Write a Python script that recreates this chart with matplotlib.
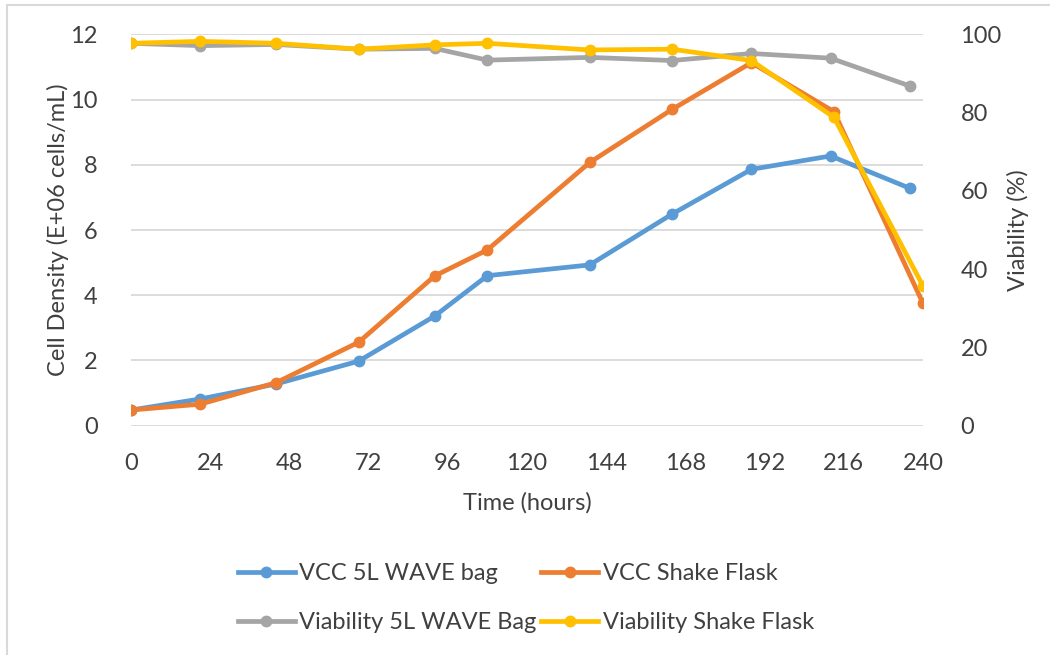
import matplotlib
matplotlib.use("Agg")
import matplotlib.pyplot as plt
from matplotlib.lines import Line2D

plt.rcParams['font.family'] = ['Lato', 'DejaVu Sans']

# Sampling times (hours)
time_wave = [0, 21, 44, 69, 92, 108, 139, 164, 188, 212, 236]
time_flask = [0, 21, 44, 69, 92, 108, 139, 164, 188, 213, 240]

# Viable cell concentration (E+06 cells/mL)
vcc_wave = [0.48, 0.82, 1.28, 1.98, 3.36, 4.60, 4.93, 6.49, 7.86, 8.27, 7.28]
vcc_flask = [0.48, 0.66, 1.32, 2.56, 4.59, 5.39, 8.07, 9.70, 11.13, 9.63, 3.75]

# Viability (%)
via_wave = [97.7, 97.1, 97.4, 96.2, 96.4, 93.4, 94.1, 93.3, 95.1, 93.9, 86.8]
via_flask = [97.7, 98.2, 97.7, 96.2, 97.3, 97.7, 96.0, 96.2, 93.3, 78.8, 35.7]

x_ticks = list(range(0, 241, 24))
left_ticks = [0, 2, 4, 6, 8, 10, 12]
right_ticks = [0, 20, 40, 60, 80, 100]

labels = ["VCC 5L WAVE bag", "VCC Shake Flask",
          "Viability 5L WAVE Bag", "Viability Shake Flask"]
colors = ["#5B9BD5", "#ED7D31", "#A5A5A5", "#FFC000"]

TEXT = "#404040"
GRID = "#D9D9D9"
FS = 17
LW = 3.4
MS = 7.5

fig = plt.figure(figsize=(10.5, 6.55), dpi=100)
ax = fig.add_axes([131 / 1050, 1 - 425.7 / 655, (923 - 131) / 1050, (425.7 - 34.3) / 655])
ax2 = ax.twinx()

ax.plot(time_wave, vcc_wave, color=colors[0], lw=LW, marker='o', ms=MS,
        solid_joinstyle='round', solid_capstyle='round', zorder=3)
ax.plot(time_flask, vcc_flask, color=colors[1], lw=LW, marker='o', ms=MS,
        solid_joinstyle='round', solid_capstyle='round', zorder=3)
ax2.plot(time_wave, via_wave, color=colors[2], lw=LW, marker='o', ms=MS,
         solid_joinstyle='round', solid_capstyle='round', zorder=3)
ax2.plot(time_flask, via_flask, color=colors[3], lw=LW, marker='o', ms=MS,
         solid_joinstyle='round', solid_capstyle='round', zorder=3)

ax.set_xlim(0, 240)
ax.set_ylim(0, 12)
ax2.set_ylim(0, 100)
ax.set_xticks(x_ticks)
ax.set_yticks(left_ticks)
ax2.set_yticks(right_ticks)

ax.yaxis.grid(True, color=GRID, lw=1.3)
ax.set_axisbelow(True)
for a in (ax, ax2):
    for s in a.spines.values():
        s.set_visible(False)

ax.tick_params(axis='x', length=0, pad=20, labelsize=FS, labelcolor=TEXT)
ax.tick_params(axis='y', length=0, pad=24, labelsize=FS, labelcolor=TEXT)
ax2.tick_params(axis='y', length=0, pad=27, labelsize=FS, labelcolor=TEXT)

ax.set_xlabel("Time (hours)", fontsize=FS, color=TEXT, labelpad=13)
ax.set_ylabel("Cell Density (E+06 cells/mL)", fontsize=FS, color=TEXT, labelpad=1)
ax2.set_ylabel("Viability (%)", fontsize=FS, color=TEXT, labelpad=4)

# Legend laid out row by row: matplotlib fills columns first
order = [0, 2, 1, 3]
handles = [Line2D([], [], color=colors[i], lw=LW, marker='o', ms=MS) for i in order]
fig.legend(handles, [labels[i] for i in order], ncol=2, loc='upper left',
           bbox_to_anchor=(238 / 1050, 1 - 563 / 655), frameon=False,
           fontsize=FS, labelcolor=TEXT, handlelength=2.4, handletextpad=0.2,
           columnspacing=0.2, labelspacing=1.2, borderaxespad=0, borderpad=0)

# Chart frame edges
fig.add_artist(Line2D([6.5 / 1050, 6.5 / 1050], [0, 1 - 5 / 655], color=GRID, lw=1.5))
fig.add_artist(Line2D([6.5 / 1050, 1], [1 - 5 / 655, 1 - 5 / 655], color=GRID, lw=1.5))

fig.savefig("out.png", dpi=100, facecolor="white")
